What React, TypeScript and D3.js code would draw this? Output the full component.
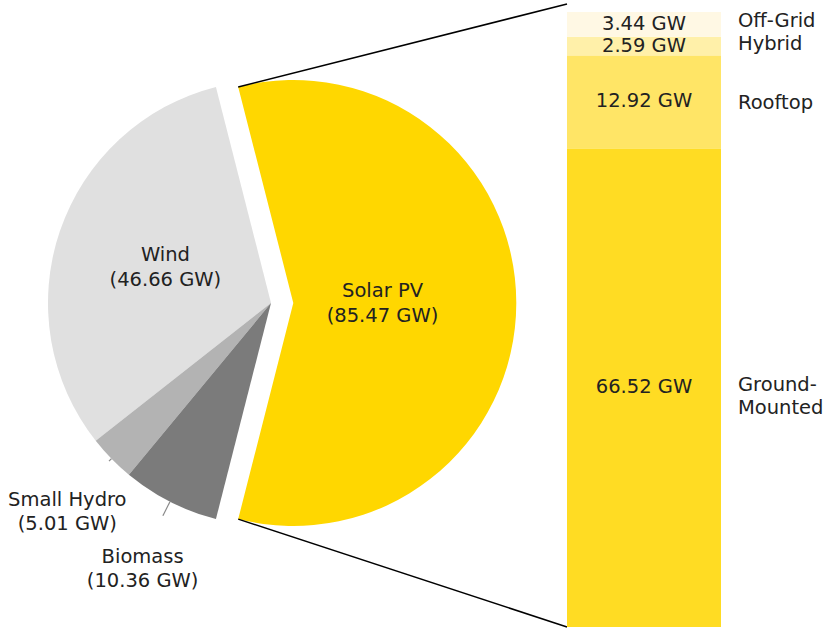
import React from "react";
import * as d3 from "d3";

// pie: overall renewable capacity
const sources = ["Solar PV", "Wind", "Small Hydro", "Biomass"];
const capacity = [85.47, 46.66, 5.01, 10.36];
const sourceColors = ["#ffd700", "#e0e0e0", "#b3b3b3", "#7b7b7b"];

// bar: solar PV breakdown, bottom to top
const segments = ["Ground-Mounted", "Rooftop", "Hybrid", "Off-Grid"];
const segmentValues = [66.52, 12.92, 2.59, 3.44];
const segmentColors = ["#ffdc23", "#ffe566", "#fff0a9", "#fff8e4"];

const W = 825;
const H = 629;
const font = "'DejaVu Sans', sans-serif";
const fs = 19.5;

export default function App() {
  const cx = 271;
  const cy = 303;
  const R = 223;
  const total = d3.sum(capacity);
  const solarSpan = (capacity[0] / total) * 2 * Math.PI;
  const start = Math.PI / 2 + solarSpan / 2;

  const pie = d3.pie<number>().sort(null).startAngle(start).endAngle(start - 2 * Math.PI);
  const arcs = pie(capacity);
  const arc = d3.arc<d3.PieArcDatum<number>>().innerRadius(0).outerRadius(R);

  const explode = [0.1, 0, 0, 0];
  const labelR = [0.4, 0.5, 1.32, 1.32];
  const labelNudge = [[0, 0], [0, 0], [7, 3], [5, 3]];

  const pt = (a: number, r: number) => [Math.sin(a) * r, -Math.cos(a) * r];

  // bar
  const barX = 567;
  const barW = 154;
  const y = d3.scaleLinear().domain([0, d3.sum(segmentValues)]).range([627, 12]);
  const cum = d3.cumsum(segmentValues);
  const labelShift = [8, 0, -3, -4];

  const solar = arcs[0];
  const solarMid = (solar.startAngle + solar.endAngle) / 2;
  const [ox, oy] = pt(solarMid, explode[0] * R);
  const [tx, ty] = pt(solar.endAngle, R); // top edge of solar wedge
  const [bx, by] = pt(solar.startAngle, R); // bottom edge

  return (
    <svg width={W} height={H} style={{ position: "absolute", left: 0, top: 0 }} fontFamily={font}>
      <rect width={W} height={H} fill="#fff" />
      {arcs.map((a, i) => {
        const mid = (a.startAngle + a.endAngle) / 2;
        const [dx, dy] = pt(mid, explode[i] * R);
        return (
          <path key={sources[i]} d={arc(a) || ""} fill={sourceColors[i]}
            transform={`translate(${cx + dx},${cy + dy})`} />
        );
      })}
      {/* small leader ticks for outside labels */}
      {arcs.slice(2).map((a, j) => {
        const mid = (a.startAngle + a.endAngle) / 2;
        const [x1, y1] = pt(mid, R);
        const [x2, y2] = pt(mid, R * (j === 0 ? 1.015 : 1.07));
        return (
          <line key={j} x1={cx + x1} y1={cy + y1} x2={cx + x2} y2={cy + y2}
            stroke="#8a8a8a" strokeWidth={1.2} />
        );
      })}
      {arcs.map((a, i) => {
        const mid = (a.startAngle + a.endAngle) / 2;
        const [dx, dy] = pt(mid, explode[i] * R);
        const [lx, ly] = pt(mid, labelR[i] * R);
        const x = cx + dx + lx + labelNudge[i][0];
        const yy = cy + dy + ly + labelNudge[i][1];
        return (
          <text key={sources[i]} x={x} y={yy} textAnchor="middle" fontSize={fs} fill="#222">
            <tspan x={x} dy="-0.3em">{sources[i]}</tspan>
            <tspan x={x} dy="1.25em">({capacity[i].toFixed(2)} GW)</tspan>
          </text>
        );
      })}

      {/* connectors */}
      <line x1={cx + ox + tx} y1={cy + oy + ty} x2={barX} y2={y(cum[cum.length - 1]) - 8}
        stroke="#000" strokeWidth={1.5} />
      <line x1={cx + ox + bx} y1={cy + oy + by} x2={barX} y2={y(0)}
        stroke="#000" strokeWidth={1.5} />

      {segments.map((s, i) => {
        const y0 = y(cum[i] - segmentValues[i]);
        const y1 = y(cum[i]);
        const mid = (y0 + y1) / 2;
        const parts = s === "Ground-Mounted" ? ["Ground-", "Mounted"] : [s];
        return (
          <g key={s}>
            <rect x={barX} y={y1} width={barW} height={y0 - y1} fill={segmentColors[i]} />
            <text x={barX + barW / 2} y={mid} dy="0.28em" textAnchor="middle" fontSize={fs} fill="#222">
              {segmentValues[i].toFixed(2)} GW
            </text>
            <text x={738} y={mid + labelShift[i]} fontSize={fs} fill="#222">
              {parts.map((p, k) => (
                <tspan key={k} x={738}
                  dy={k === 0 ? `${0.35 - (parts.length - 1) * 0.6}em` : "1.2em"}>{p}</tspan>
              ))}
            </text>
          </g>
        );
      })}
    </svg>
  );
}
